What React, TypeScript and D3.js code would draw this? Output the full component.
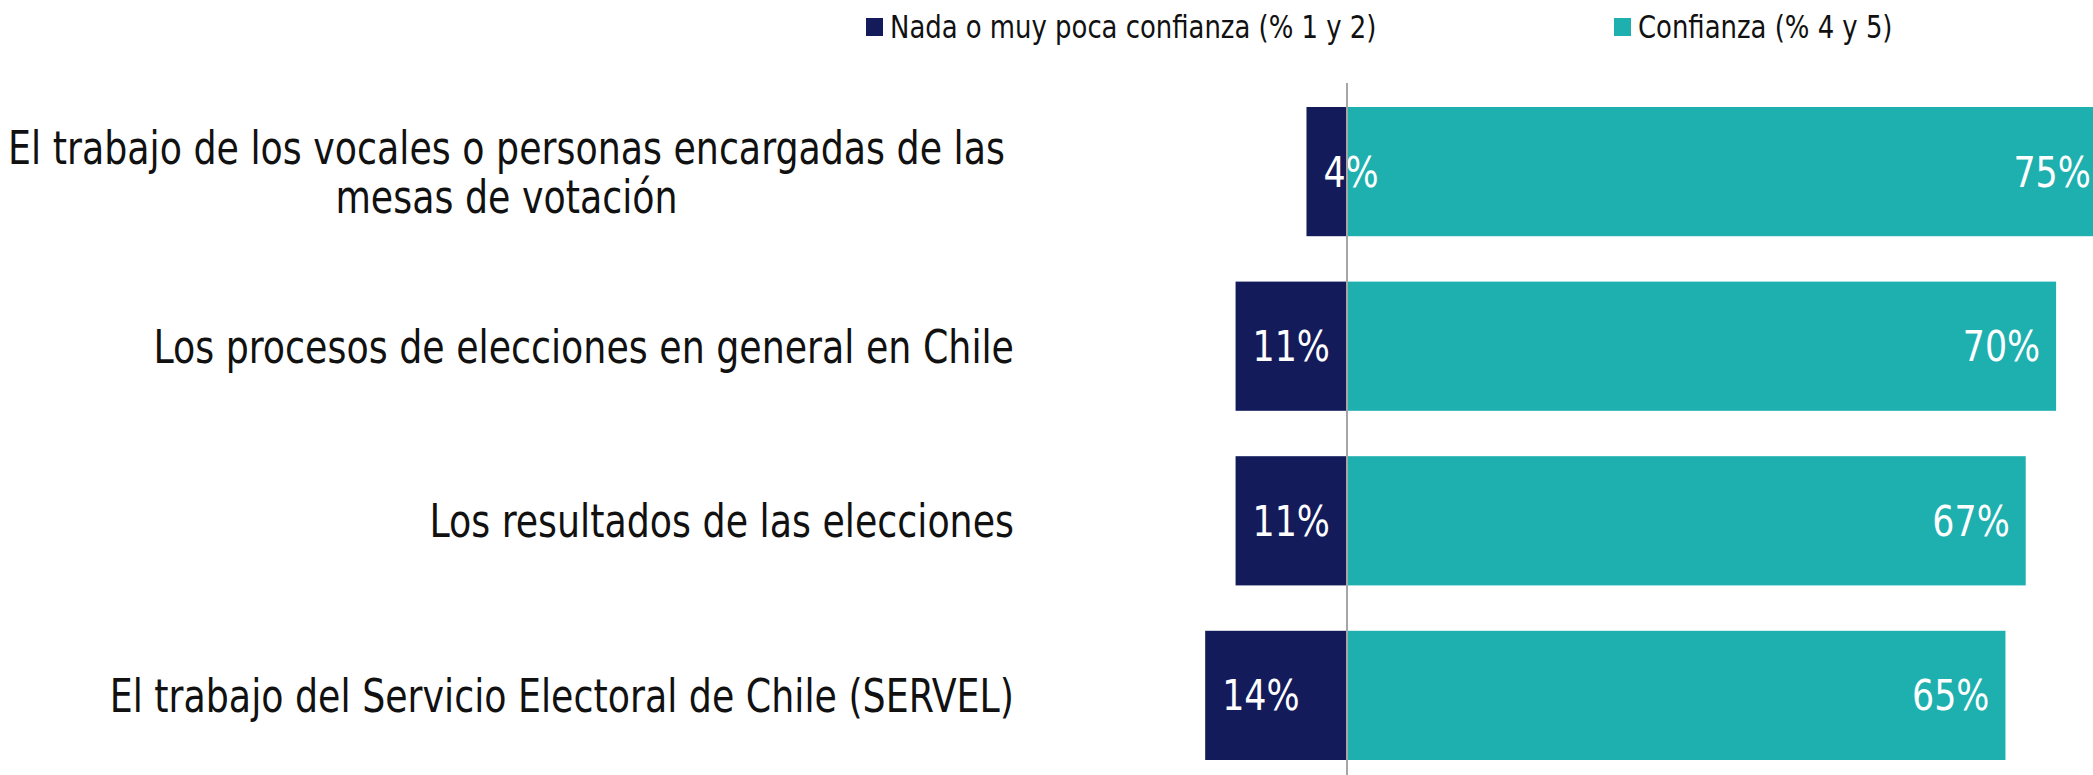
import { useEffect, useRef } from "react"
import * as d3 from "d3"

const categories = [
  ["El trabajo de los vocales o personas encargadas de las", "mesas de votación"],
  ["Los procesos de elecciones en general en Chile"],
  ["Los resultados de las elecciones"],
  ["El trabajo del Servicio Electoral de Chile (SERVEL)"],
]
const distrust = [4, 11, 11, 14]
const trust = [75, 70, 67, 65]
const seriesNames = ["Nada o muy poca confianza (% 1 y 2)", "Confianza (% 4 y 5)"]
const colors = ["#131b5b", "#1eafaf"]

const FONT = "'Liberation Sans Narrow', 'DejaVu Sans Condensed', 'Roboto', sans-serif"
// the reference face is narrower than anything installed, so squeeze horizontally
const SQUEEZE = 0.86
const VALUE_SQUEEZE = 0.9

export default function App() {
  const svgRef = useRef<SVGSVGElement>(null)

  useEffect(() => {
    if (!svgRef.current) return
    document.body.style.margin = "0"
    const W = 2093
    const H = 775

    const svg = d3.select(svgRef.current)
    svg.selectAll("*").remove()
    svg.attr("width", W).attr("height", H)

    const keys = categories.map((_, i) => String(i))
    const y = d3.scaleBand().domain(keys).range([107, 760]).paddingInner(0.26).paddingOuter(0)
    const x = d3.scaleLinear().domain([0, 100]).range([1347, 2360])
    const cy = (i: number) => (y(String(i)) ?? 0) + y.bandwidth() / 2

    // bars
    svg.append("g")
      .selectAll("rect")
      .data(distrust)
      .join("rect")
      .attr("x", (d) => x(-d))
      .attr("width", (d) => x(0) - x(-d))
      .attr("y", (_, i) => y(String(i)) ?? 0)
      .attr("height", y.bandwidth())
      .attr("fill", colors[0])

    svg.append("g")
      .selectAll("rect")
      .data(trust)
      .join("rect")
      .attr("x", x(0))
      .attr("width", (d) => x(d) - x(0))
      .attr("y", (_, i) => y(String(i)) ?? 0)
      .attr("height", y.bandwidth())
      .attr("fill", colors[1])

    // value labels
    const valueLabel = (px: number, py: number, anchor: string, txt: string) => {
      svg.append("g")
        .attr("transform", `translate(${px},${py}) scale(${VALUE_SQUEEZE},1)`)
        .append("text")
        .attr("text-anchor", anchor)
        .attr("dy", "0.35em")
        .style("fill", "#fff")
        .style("font-family", FONT)
        .style("font-size", "43px")
        .text(txt)
    }
    distrust.forEach((d, i) => valueLabel(x(-d) + 17, cy(i), "start", `${d}%`))
    trust.forEach((d, i) => valueLabel(x(d) - 16, cy(i), "end", `${d}%`))

    // zero line
    svg.append("line")
      .attr("x1", x(0))
      .attr("x2", x(0))
      .attr("y1", 83)
      .attr("y2", H)
      .attr("stroke", "#a6a6a6")
      .attr("stroke-width", 2)

    // category labels
    const labelRight = 1014
    const lineH = 49
    categories.forEach((lines, i) => {
      const g = svg.append("g")
      const t = g.append("text")
        .style("fill", "#111")
        .style("font-family", FONT)
        .style("font-size", "47px")
      lines.forEach((ln, j) => {
        t.append("tspan")
          .attr("x", 0)
          .attr("y", (j - (lines.length - 1) / 2) * lineH)
          .attr("dy", "0.35em")
          .text(ln)
      })
      const spans = t.selectAll<SVGTSpanElement, unknown>("tspan").nodes()
      const maxW = (d3.max(spans, (n) => n.getComputedTextLength()) ?? 0) * SQUEEZE
      if (lines.length > 1) {
        t.attr("text-anchor", "middle")
        g.attr("transform", `translate(${labelRight - 9 - maxW / 2},${cy(i)}) scale(${SQUEEZE},1)`)
      } else {
        t.attr("text-anchor", "end")
        g.attr("transform", `translate(${labelRight},${cy(i)}) scale(${SQUEEZE},1)`)
      }
    })

    // legend
    const legendX = [866, 1614]
    seriesNames.forEach((name, i) => {
      const lg = svg.append("g").attr("transform", `translate(${legendX[i]}, 0)`)
      lg.append("rect").attr("x", 0).attr("y", 18).attr("width", 17).attr("height", 18).attr("fill", colors[i])
      lg.append("g")
        .attr("transform", `translate(24,38) scale(0.9,1)`)
        .append("text")
        .style("fill", "#111")
        .style("font-family", FONT)
        .style("font-size", "32px")
        .text(name)
    })
  }, [])

  return <svg ref={svgRef} style={{ display: "block" }} />
}
